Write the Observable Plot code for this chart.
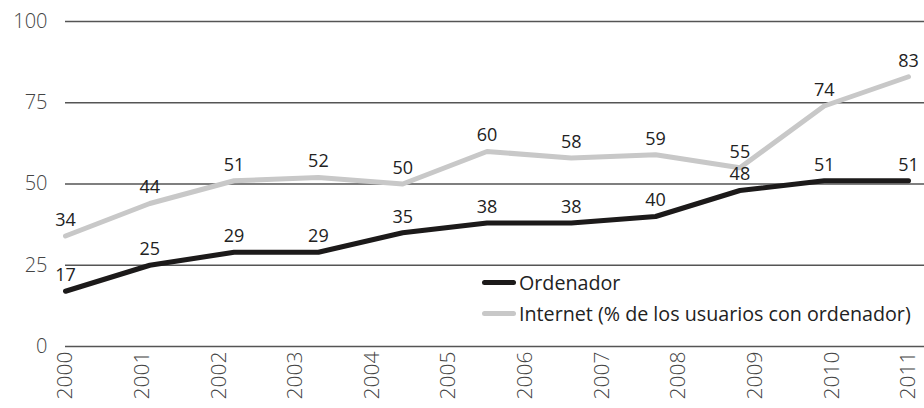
<!DOCTYPE html>
<html>
<head>
<meta charset="utf-8">
<script src="https://cdn.jsdelivr.net/npm/d3@7"></script>
<script src="https://cdn.jsdelivr.net/npm/@observablehq/plot@0.6"></script>
<style>
  html, body { margin: 0; padding: 0; background: #fff; }
  #wrap { position: relative; width: 924px; height: 408px; font-family: "Open Sans", sans-serif; }
  #legend { position: absolute; left: 482px; top: 267px; font-size: 19.7px; color: #222; line-height: 31px; }
  #legend .row { display: flex; align-items: center; white-space: nowrap; }
  #legend .sw { width: 34px; height: 5px; border-radius: 3px; margin-right: 3px; }
</style>
</head>
<body>
<div id="wrap">
  <div id="chart"></div>
  <div id="legend"></div>
</div>
<script>
const years = ["2000","2001","2002","2003","2004","2005","2006","2007","2008","2009","2010","2011"];
const ordenador = [17, 25, 29, 29, 35, 38, 38, 40, 48, 51, 51];
const internet = [34, 44, 51, 52, 50, 60, 58, 59, 55, 74, 83];
const seriesNames = ["Ordenador", "Internet (% de los usuarios con ordenador)"];
const seriesColors = ["#1c1a1a", "#c8c8c8"];
const yTicks = [0, 25, 50, 75, 100];

const rows = [];
[ordenador, internet].forEach((vals, s) => {
  vals.forEach((v, i) => rows.push({series: seriesNames[s], pos: i / (vals.length - 1), value: v}));
});
const tickPos = years.map((y, j) => j / (years.length - 1));
const yearFmt = (d) => years[Math.round(d * (years.length - 1))];

const plot = Plot.plot({
  width: 924,
  height: 408,
  marginLeft: 65,
  marginRight: 16,
  marginTop: 21,
  marginBottom: 62,
  style: {fontFamily: "'Open Sans', sans-serif", background: "#fff"},
  x: {domain: [0, 1], ticks: tickPos, tickFormat: yearFmt, label: null},
  y: {domain: [0, 100], ticks: yTicks, label: null},
  marks: [
    Plot.ruleY(yTicks, {stroke: "#555", strokeWidth: 1.3, insetRight: -16}),
    Plot.axisY({ticks: yTicks, tickSize: 0, tickPadding: 18, fontSize: 20, fontWeight: 300, fill: "#444", label: null}),
    Plot.axisX({ticks: tickPos, tickSize: 0, tickRotate: -90, tickPadding: 5, fontSize: 21, fontWeight: 300, fill: "#444", label: null,
      tickFormat: yearFmt}),
    Plot.line(rows.filter(d => d.series === seriesNames[1]), {x: "pos", y: "value", stroke: seriesColors[1], strokeWidth: 5, strokeLinecap: "round", strokeLinejoin: "round"}),
    Plot.line(rows.filter(d => d.series === seriesNames[0]), {x: "pos", y: "value", stroke: seriesColors[0], strokeWidth: 5, strokeLinecap: "round", strokeLinejoin: "round"}),
    Plot.text(rows, {x: "pos", y: "value", text: d => String(d.value), dy: -16, fontSize: 18, fill: "#222"})
  ]
});
document.getElementById("chart").appendChild(plot);

const legend = document.getElementById("legend");
seriesNames.forEach((n, i) => {
  const row = document.createElement("div");
  row.className = "row";
  const sw = document.createElement("span");
  sw.className = "sw";
  sw.style.background = seriesColors[i];
  const t = document.createElement("span");
  t.textContent = n;
  row.appendChild(sw); row.appendChild(t);
  legend.appendChild(row);
});
</script>
</body>
</html>
